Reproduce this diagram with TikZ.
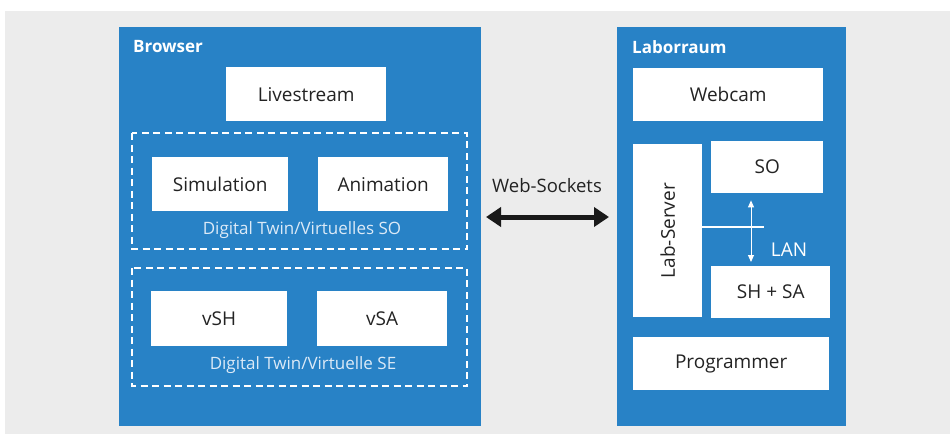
\documentclass[tikz,border=0pt]{standalone}
\usepackage{fontspec}
\setmainfont{Open Sans}
\usepackage{tikz}
\usetikzlibrary{arrows.meta}

\definecolor{labblue}{RGB}{40,130,198}
\definecolor{bggray}{RGB}{236,236,236}
\definecolor{txtdark}{RGB}{35,35,35}
\definecolor{twinlabel}{RGB}{220,234,247}

\tikzset{
  unit/.style={fill=white, text=txtdark, anchor=north west, inner sep=0pt,
    font=\fontsize{19}{22}\selectfont},
  twinbox/.style={draw=white, line width=1.4pt, dash pattern=on 7pt off 4.5pt},
  twinlabel/.style={text=twinlabel, font=\fontsize{17}{20}\selectfont},
  areatitle/.style={text=white, anchor=west, inner sep=0pt,
    font=\bfseries\fontsize{17}{20}\selectfont},
}

\begin{document}
\begin{tikzpicture}[x=1pt, y=-1pt]
            \useasboundingbox (0,0) rectangle (950,434);
            \fill [bggray] (5,11) rectangle (950,434);

            % Browser
            \fill [labblue] (119,27) rectangle (481,426);
            \node [areatitle] (browsertitle) at (133,47) {Browser};
            \node [unit, minimum width=160pt, minimum height=54pt] (livestream) at (226,67) {Livestream};

            \draw [twinbox] (132,133) rectangle (467,249);
            \node [unit, minimum width=136pt, minimum height=54pt] (simulation) at (152,157) {Simulation};
            \node [unit, minimum width=130pt, minimum height=54pt] (animation) at (318,157) {Animation};
            \node [twinlabel] (twinso) at (302,230) {Digital Twin/Virtuelles SO};

            \draw [twinbox] (132,268) rectangle (467,386);
            \node [unit, minimum width=136pt, minimum height=55pt] (vsh) at (151,291) {vSH};
            \node [unit, minimum width=130pt, minimum height=55pt] (vsa) at (317,291) {vSA};
            \node [twinlabel] (twinse) at (303,365) {Digital Twin/Virtuelle SE};

            % Laborraum
            \fill [labblue] (617,27) rectangle (846,426);
            \node [areatitle] (labtitle) at (632,47) {Laborraum};
            \node [unit, minimum width=190pt, minimum height=53pt] (webcam) at (633,68) {Webcam};
            \node [unit, minimum width=69pt, minimum height=173pt] (labserver) at (633,144) {};
            \node [text=txtdark, rotate=90, font=\fontsize{19}{22}\selectfont] at (labserver.center) {Lab-Server};
            \node [unit, minimum width=112pt, minimum height=52pt] (so) at (711,141) {SO};
            \node [unit, minimum width=119pt, minimum height=52pt] (shsa) at (711,266) {SH + SA};
            \node [unit, minimum width=196pt, minimum height=53pt] (programmer) at (633,337) {Programmer};

            % LAN
            \coordinate (lanbus) at (764,227);
            \coordinate (lanx) at (751,0);
            \draw [white, line width=1.7pt] (labserver.east |- lanbus) -- (lanbus);
            \draw [white, line width=1pt, {Triangle[length=7pt,width=6pt]}-{Triangle[length=7pt,width=6pt]},
                   shorten <=7pt, shorten >=4pt] (so.south -| lanx) -- (shsa.north -| lanx);
            \node [text=white, font=\fontsize{19}{22}\selectfont] (lan) at (789,250) {LAN};

            % Web-Sockets
            \coordinate (wsleft) at (481,217);
            \coordinate (wsright) at (617,217);
            \draw [black!90, line width=5pt, {Triangle[length=15pt,width=19pt]}-{Triangle[length=15pt,width=19pt]},
                   shorten <=5pt, shorten >=8pt] (wsleft) -- (wsright);
            \node [text=txtdark, font=\fontsize{18.5}{22}\selectfont] (websockets) at (547,186) {Web-Sockets};
\end{tikzpicture}
\end{document}
